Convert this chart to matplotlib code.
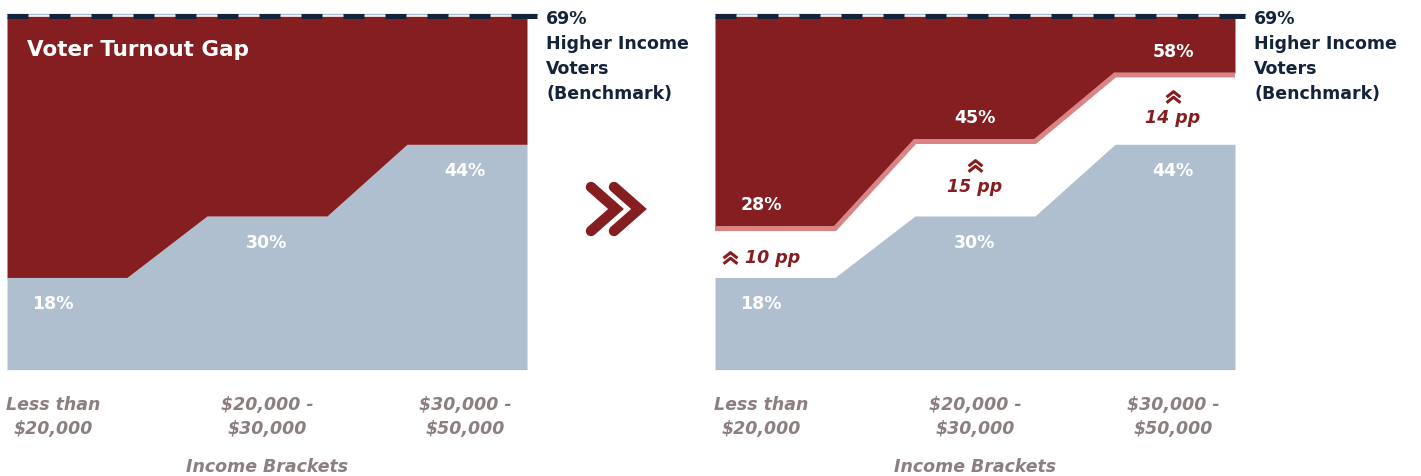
import matplotlib
matplotlib.use("Agg")
from matplotlib import pyplot as plt
from matplotlib.path import Path
from matplotlib.lines import Line2D

brackets = ["Less than\n$20,000", "$20,000 -\n$30,000", "$30,000 -\n$50,000"]
lower_income = [18, 30, 44]
lower_higher = [28, 45, 58]
benchmark = 69
gaps = ["10 pp", "15 pp", "14 pp"]

red = "#841e20"
pink = "#d98585"
blue = "#b0bfd0"
navy = "#13233a"
grey = "#8c7f80"

W, H = 1421, 477
plt.rcParams['font.family'] = ['DejaVu Sans']


def steps(vals):
    xs, ys = [], []
    for i, v in enumerate(vals):
        xs += [i - 0.3, i + 0.3]
        ys += [v, v]
    return xs, ys


chev = Path([(-1, -0.1), (0, 0.7), (1, -0.1), (-1, -0.9), (0, -0.1), (1, -0.9)],
            [Path.MOVETO, Path.LINETO, Path.LINETO, Path.MOVETO, Path.LINETO, Path.LINETO])

fig = plt.figure(figsize=(W / 100, H / 100), dpi=100)
bottom = (H - 370.6) / H
height = 358.4 / H
ax1 = fig.add_axes([7 / W, bottom, 520 / W, height])
ax2 = fig.add_axes([715 / W, bottom, 520 / W, height])

lab_x = [-0.07, 1.0, 1.99]
ital = dict(fontweight="bold", fontstyle="italic", fontsize=12.5)

for ax in (ax1, ax2):
    xs, ys = steps(lower_income)
    ax.fill_between(xs, 0, ys, color=blue, lw=0, zorder=1)
    ax.axhline(0, color="#8ea2bb", lw=1, zorder=2)
    ax.set_xlim(-0.3, 2.3)
    ax.set_ylim(0, 70)
    for s in ax.spines.values():
        s.set_visible(False)
    ax.set_yticks([])
    ax.set_xticks(lab_x)
    ax.set_xticklabels(brackets, color=grey, linespacing=1.45, **ital)
    ax.tick_params(axis="x", length=0, pad=18)
    ax.text(1.0, -0.27, "Income Brackets", transform=ax.get_xaxis_transform(),
            ha="center", va="center", color=grey, **ital)
    # benchmark line
    ax.plot([-0.3, 2.35], [benchmark + 0.55, benchmark + 0.55], color="#a8bcd4", lw=1,
            clip_on=False, zorder=4)
    ax.plot([-0.3, 2.35], [benchmark, benchmark], color=navy, lw=3.6,
            dashes=(4.2, 4.2), clip_on=False, zorder=5, solid_capstyle="butt")
    ax.plot([2.3, 2.35], [benchmark, benchmark], color=navy, lw=3.6, clip_on=False, zorder=5,
            solid_capstyle="butt")
    ax.text(2.395, benchmark + 1.4, "69%\nHigher Income\nVoters\n(Benchmark)", ha="left",
            va="top", fontweight="bold", fontsize=12.5, color=navy,
            linespacing=1.5, clip_on=False)
    for x, v in zip(lab_x, lower_income):
        ax.text(x, v - 5, f"{v}%", ha="center", va="center", color="white",
                fontweight="bold", fontsize=12.5)

# left panel: gap fill
xs, ys = steps(lower_income)
ax1.fill_between(xs, ys, benchmark, color=red, lw=0, zorder=1)
ax1.text(-0.2, 62.7, "Voter Turnout Gap", color="white", fontweight="bold", fontsize=15.5,
         ha="left", va="center")

# right panel: higher turnout scenario
xs, ys = steps(lower_higher)
ax2.fill_between(xs, ys, benchmark, color=red, lw=0, zorder=1)
ax2.plot(xs, [y - 0.45 for y in ys], color=pink, lw=3.6, zorder=2, solid_joinstyle="miter")
for x, v in zip(lab_x, lower_higher):
    ax2.text(x, v + 4.3, f"{v}%", ha="center", va="center", color="white",
             fontweight="bold", fontsize=12.5)

ptxt = dict(color=red, **ital)
ax2.plot([-0.225], [22], marker=chev, ms=10, mew=2.2, mfc="none", mec=red, ls="none")
ax2.text(-0.15, 22, gaps[0], ha="left", va="center", **ptxt)
for i in (1, 2):
    mid = (lower_income[i] + lower_higher[i]) / 2
    ax2.plot([lab_x[i]], [mid + 2.5], marker=chev, ms=10, mew=2.2, mfc="none",
             mec=red, ls="none")
    ax2.text(lab_x[i], mid - 1.6, gaps[i], ha="center", va="center", **ptxt)

# double chevron arrow between panels
for dx in (0, 23):
    fig.add_artist(Line2D([(591 + dx) / W, (616 + dx) / W, (591 + dx) / W],
                          [1 - 188 / H, 1 - 210 / H, 1 - 232 / H],
                          color=red, lw=7.5, solid_capstyle="round", solid_joinstyle="miter"))

fig.savefig("out.png", dpi=100)
